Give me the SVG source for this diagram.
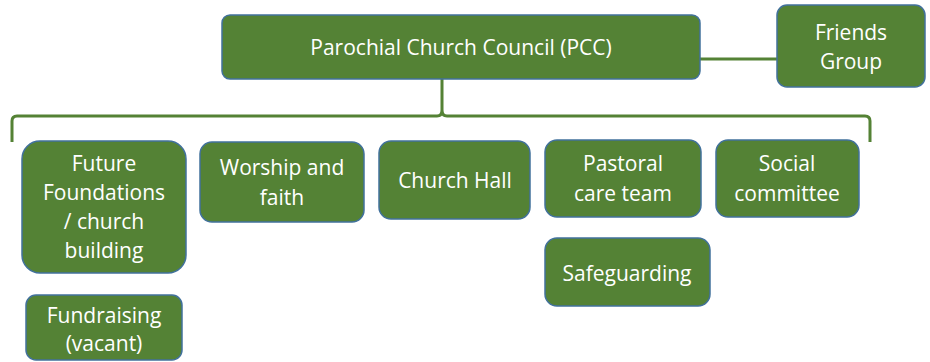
<svg xmlns="http://www.w3.org/2000/svg" width="930" height="362" viewBox="0 0 930 362">
<style>
.box{fill:#548235;stroke:#41719C;stroke-width:1.5}
.t{fill:#ffffff;font-family:"Open Sans","Liberation Sans",sans-serif;font-size:21px;text-anchor:middle}
.c{fill:none;stroke:#548235;stroke-width:3}
</style>
<rect width="930" height="362" fill="#ffffff"/>
<g id="connectors">
<line class="c" x1="700" y1="59" x2="777" y2="59"/>
<path class="c" d="M12,142 V121 Q12,116 17,116 H437 Q442,116 442,110 V79 M442,110 Q442,116 447,116 H865 Q870,116 870,121 V142"/>
</g>
<g id="pcc"><rect class="box" x="222" y="15" width="478" height="64" rx="8"/><text class="t" x="461" y="55">Parochial Church Council (PCC)</text></g>
<g id="friends"><rect class="box" x="777" y="5" width="148" height="82" rx="10"/><text class="t" x="851" y="40">Friends</text><text class="t" x="851" y="69">Group</text></g>
<g id="future"><rect class="box" x="22" y="141" width="164" height="132" rx="18"/><text class="t" x="104" y="171">Future</text><text class="t" x="104" y="200">Foundations</text><text class="t" x="104" y="229">/ church</text><text class="t" x="104" y="258">building</text></g>
<g id="worship"><rect class="box" x="200" y="142" width="164" height="80" rx="12"/><text class="t" x="282" y="175">Worship and</text><text class="t" x="282" y="205">faith</text></g>
<g id="hall"><rect class="box" x="379" y="141" width="151" height="78" rx="12"/><text class="t" x="455" y="188">Church Hall</text></g>
<g id="pastoral"><rect class="box" x="545" y="140" width="156" height="77" rx="12"/><text class="t" x="623" y="171">Pastoral</text><text class="t" x="623" y="201">care team</text></g>
<g id="social"><rect class="box" x="716" y="140" width="143" height="77" rx="12"/><text class="t" x="787" y="171">Social</text><text class="t" x="787" y="201">committee</text></g>
<g id="safeguarding"><rect class="box" x="545" y="238" width="165" height="68" rx="12"/><text class="t" x="627" y="281">Safeguarding</text></g>
<g id="fundraising"><rect class="box" x="26" y="295" width="156" height="65" rx="10"/><text class="t" x="104" y="323">Fundraising</text><text class="t" x="104" y="351">(vacant)</text></g>
</svg>
